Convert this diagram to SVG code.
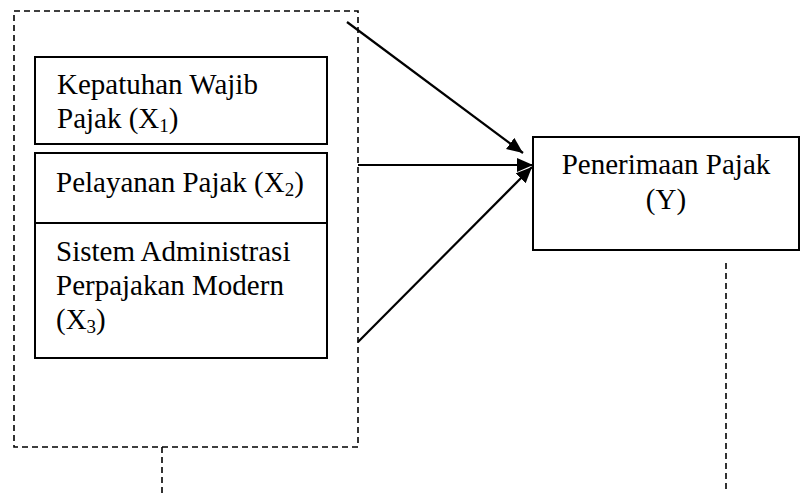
<svg xmlns="http://www.w3.org/2000/svg" width="801" height="493" viewBox="0 0 801 493">
<style>
.box{fill:#fff;stroke:#000;stroke-width:2}
.dash{fill:none;stroke:#000;stroke-width:1.6;stroke-dasharray:6 4}
.t{font-family:"Liberation Serif","Times New Roman",serif;font-size:29px;fill:#000}
.s{font-size:19px}
.arr{fill:none;stroke:#000;stroke-width:2.2}
</style>
<defs>
<marker id="ah" markerUnits="userSpaceOnUse" markerWidth="18" markerHeight="16" refX="16" refY="7" orient="auto">
<path d="M0,0 L16,7 L0,14 Z" fill="#000"/>
</marker>
</defs>
<g id="group-x">
<rect class="dash" x="14" y="11" width="344" height="436"/>
<line class="dash" x1="162" y1="447" x2="162" y2="493"/>
</g>
<g id="x1">
<rect class="box" x="35" y="57" width="292" height="87"/>
<text class="t" x="57" y="94">Kepatuhan Wajib</text>
<text class="t" x="57" y="128">Pajak (X<tspan class="s" dy="4">1</tspan><tspan dy="-4">)</tspan></text>
</g>
<g id="x2">
<rect class="box" x="35" y="153" width="292" height="70"/>
<text class="t" x="56" y="192">Pelayanan Pajak (X<tspan class="s" dy="4">2</tspan><tspan dy="-4">)</tspan></text>
</g>
<g id="x3">
<rect class="box" x="35" y="223" width="292" height="135"/>
<text class="t" x="56" y="261">Sistem Administrasi</text>
<text class="t" x="56" y="295">Perpajakan Modern</text>
<text class="t" x="56" y="329">(X<tspan class="s" dy="4">3</tspan><tspan dy="-4">)</tspan></text>
</g>
<g id="y">
<rect class="box" x="533" y="137" width="266" height="113"/>
<text class="t" x="666" y="174" text-anchor="middle">Penerimaan Pajak</text>
<text class="t" x="666" y="209" text-anchor="middle">(Y)</text>
<line class="dash" x1="726" y1="263" x2="726" y2="493"/>
</g>
<g id="connectors">
<line class="arr" x1="347" y1="22" x2="523" y2="153" marker-end="url(#ah)"/>
<line class="arr" x1="358" y1="165" x2="533" y2="165" marker-end="url(#ah)"/>
<line class="arr" x1="358" y1="342" x2="532" y2="167" marker-end="url(#ah)"/>
</g>
</svg>
